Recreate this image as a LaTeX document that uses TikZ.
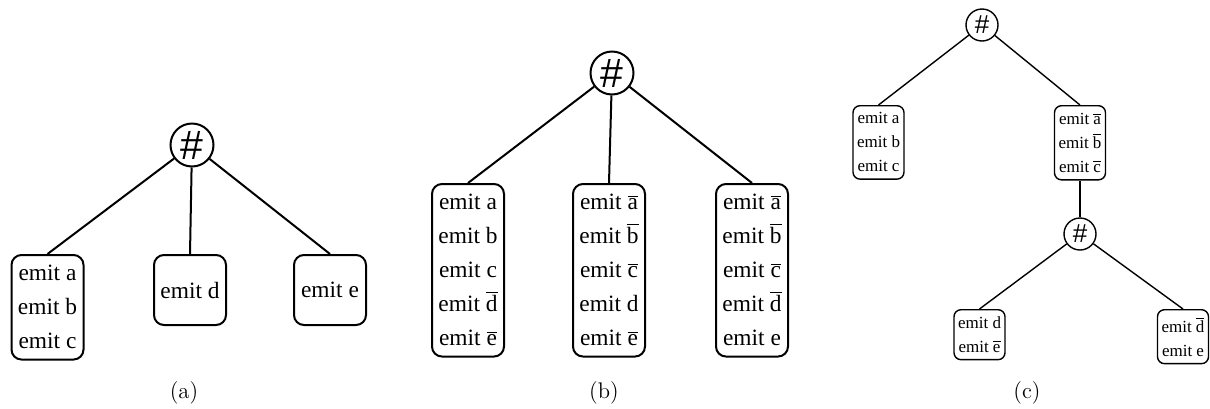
\documentclass[tikz,border=0pt]{standalone}
\usepackage{fontspec}
\usepackage{tikz}
\usetikzlibrary{positioning}
\newfontfamily\tmsfont{Liberation Serif}
\newfontfamily\arlfont{Liberation Sans}
\newcommand\ov[1]{$\overline{\mbox{#1}}$}

\begin{document}
\begin{tikzpicture}[x=0.5pt,y=-0.5pt,
  bigsharp/.style={draw,circle,line width=1pt,inner sep=0pt,minimum size=21.5pt,font=\arlfont\fontsize{20.5}{20.5}\selectfont},
  smallsharp/.style={draw,circle,line width=0.7pt,inner sep=0pt,minimum size=16pt,font=\arlfont\fontsize{13}{13}\selectfont},
  bigbox/.style={draw,rounded corners=5pt,line width=1pt,align=center,anchor=north,inner xsep=1pt,inner ysep=5.2pt,minimum width=36pt,font=\tmsfont\fontsize{11.7}{17}\selectfont},
  smallbox/.style={draw,rounded corners=3.5pt,line width=0.7pt,align=center,anchor=north,inner xsep=1pt,inner ysep=3.5pt,minimum width=25.5pt,font=\tmsfont\fontsize{8.5}{12}\selectfont},
  bigedge/.style={line width=1pt},
  smalledge/.style={line width=0.7pt},
  caption/.style={font=\fontsize{11.3}{13}\selectfont}]
\useasboundingbox (0,0) rectangle (1210,408);
% (a)
\node[bigsharp] (ha) at (192,145) {\#};
\node[bigbox] (aabc) at (47.5,254) {emit a\\emit b\\emit c};
\node[bigbox,minimum height=35pt] (ad) at (190,254) {emit d};
\node[bigbox,minimum height=35pt] (ae) at (330,254) {emit e};
\draw[bigedge] (ha)--(aabc.north);
\draw[bigedge] (ha)--(ad.north);
\draw[bigedge] (ha)--(ae.north);
\node[caption] (capa) at (184,393) {(a)};
% (b)
\node[bigsharp] (hb) at (612,73) {\#};
\node[bigbox] (bl) at (468,183) {emit a\\emit b\\emit c\\emit \ov{d}\\emit \ov{e}};
\node[bigbox] (bm) at (609,183) {emit \ov{a}\\emit \ov{b}\\emit \ov{c}\\emit d\\emit \ov{e}};
\node[bigbox] (br) at (752,183) {emit \ov{a}\\emit \ov{b}\\emit \ov{c}\\emit \ov{d}\\emit e};
\draw[bigedge] (hb)--(bl.north);
\draw[bigedge] (hb)--(bm.north);
\draw[bigedge] (hb)--(br.north);
\node[caption] (capb) at (604,393) {(b)};
% (c)
\node[smallsharp] (hc) at (982,25) {\#};
\node[smallbox] (cabc) at (878.5,105) {emit a\\emit b\\emit c};
\node[smallbox] (cnabc) at (1080,105) {emit \ov{a}\\emit \ov{b}\\emit \ov{c}};
\node[smallsharp] (hd) at (1080,234) {\#};
\node[smallbox] (cde) at (979.5,309) {emit d\\emit \ov{e}};
\node[smallbox] (cnde) at (1183,309) {emit \ov{d}\\emit e};
\draw[smalledge] (hc)--(cabc.north);
\draw[smalledge] (hc)--(cnabc.north);
\draw[smalledge] (cnabc)--(hd);
\draw[smalledge] (hd)--(cde.north);
\draw[smalledge] (hd)--(cnde.north);
\node[caption] (capc) at (1027,393) {(c)};
\end{tikzpicture}
\end{document}
